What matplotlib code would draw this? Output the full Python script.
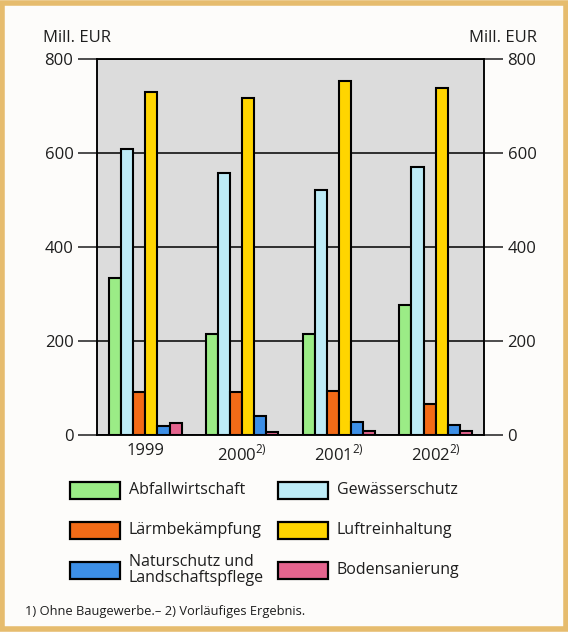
import numpy as np
import matplotlib.pyplot as plt
from matplotlib.patches import Rectangle

plt.rcParams['font.family'] = ['Open Sans', 'DejaVu Sans']

years = ['1999', '2000$^{\\mathregular{2)}}$', '2001$^{\\mathregular{2)}}$', '2002$^{\\mathregular{2)}}$']
categories = ['Abfallwirtschaft', 'Gewässerschutz', 'Lärmbekämpfung',
              'Luftreinhaltung', 'Naturschutz und\nLandschaftspflege', 'Bodensanierung']
abfall = [334, 215, 215, 277]
gewaesser = [608, 557, 521, 570]
laerm = [91, 91, 94, 66]
luft = [730, 717, 753, 738]
natur = [19, 40, 28, 21]
boden = [26, 6, 8, 8]
series = [abfall, gewaesser, laerm, luft, natur, boden]
colors = ['#9BEC86', '#BDEBF6', '#F26B17', '#FFD500', '#3D8FE6', '#E4648E']

W, H = 568, 632
txt = '#1E1E1E'
fig = plt.figure(figsize=(W / 100, H / 100), dpi=100)
fig.patch.set_facecolor('#FDFCFA')
# tan frame around the figure
fig.patches.append(Rectangle((0.004, 0.004), 0.992, 0.992, transform=fig.transFigure,
                             fill=False, edgecolor='#E6BC6E', linewidth=4))

ax = fig.add_axes([97 / W, 1 - 435 / H, 387 / W, 376 / H])
ax.set_facecolor('#DCDCDC')
x = np.arange(len(years))
bw = 0.125
for i, (vals, c) in enumerate(zip(series, colors)):
    ax.bar(x - 2.5 * bw + i * bw, vals, bw, color=c, edgecolor='black',
           linewidth=1.5, zorder=3)

ax.set_xlim(-0.5, 3.5)
ax.set_ylim(0, 800)
ax.set_yticks([0, 200, 400, 600, 800])
ax.yaxis.grid(True, color='black', linewidth=1.1, zorder=1)
ax.tick_params(axis='y', length=14, width=1.1, labelsize=12, pad=3, colors=txt)
ax.set_xticks(x)
ax.set_xticklabels(years, fontsize=12, color=txt)
ax.tick_params(axis='x', length=0, pad=6)
for s in ax.spines.values():
    s.set_linewidth(1.1)

ax2 = ax.twinx()
ax2.set_ylim(0, 800)
ax2.set_yticks([0, 200, 400, 600, 800])
ax2.tick_params(axis='y', length=14, width=1.1, labelsize=12, pad=3, colors=txt)
for s in ax2.spines.values():
    s.set_linewidth(1.1)

fig.text(43 / W, 1 - 38 / H, 'Mill. EUR', fontsize=12, va='center', ha='left', color=txt)
fig.text(537 / W, 1 - 38 / H, 'Mill. EUR', fontsize=12, va='center', ha='right', color=txt)

# legend in two columns
order = [(0, 0), (1, 0), (2, 1), (3, 1), (4, 2), (5, 2)]
for idx, row in order:
    col = idx % 2
    hx = 70 if col == 0 else 278
    yc = 490 + 40 * row
    fig.patches.append(Rectangle((hx / W, 1 - (yc + 8.5) / H), 50 / W, 17 / H,
                                 transform=fig.transFigure, facecolor=colors[idx],
                                 edgecolor='black', linewidth=1.6))
    fig.text((hx + 59) / W, 1 - yc / H, categories[idx], fontsize=11.5,
             va='center', ha='left', color=txt, linespacing=1.05)

fig.text(25 / W, 1 - 612 / H, '1) Ohne Baugewerbe.– 2) Vorläufiges Ergebnis.',
         fontsize=9.3, va='center', ha='left', color=txt)

fig.savefig('out.png', dpi=100, facecolor=fig.get_facecolor())
